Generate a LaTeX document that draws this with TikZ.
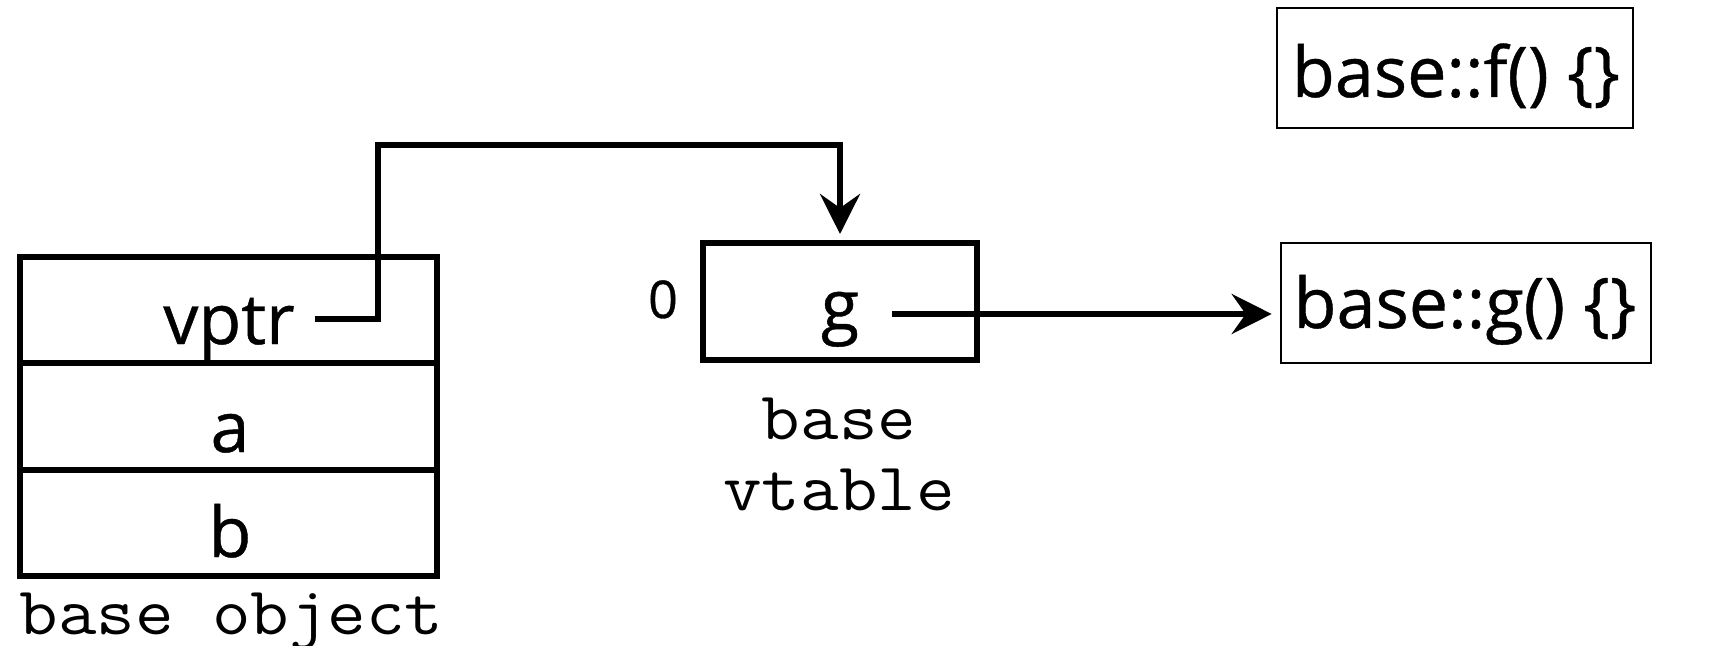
\documentclass[tikz,border=0pt]{standalone}
\usepackage{fontspec}
\newfontfamily\osans[FakeBold=0.6]{Open Sans}
\newfontfamily\cour[FakeStretch=1.1]{Latin Modern Mono}
\usetikzlibrary{arrows.meta}
\begin{document}
\begin{tikzpicture}[x=0.5pt,y=-0.5pt,
  cell/.style={draw, line width=3pt, minimum width=208.5pt, minimum height=53.2pt, inner sep=0pt},
  vtbox/.style={draw, line width=3pt, minimum width=137pt, minimum height=58.5pt, inner sep=0pt},
  fnbox/.style={draw, line width=1.3pt, minimum height=60pt, inner sep=0pt},
  txt/.style={anchor=base, inner sep=0pt, font=\osans\fontsize{35pt}{40pt}\selectfont},
  small/.style={anchor=base, inner sep=0pt, font=\osans\fontsize{26pt}{30pt}\selectfont},
  mono/.style={anchor=base, inner sep=0pt, font=\cour\fontsize{34pt}{38pt}\selectfont},
  ptr/.style={line width=3pt, -{Stealth[length=20pt, width=20pt, inset=7pt]}}
]
\useasboundingbox (0,0) rectangle (1711,646);

% base object
\node[cell] (r1) at (228.5,310.2) {};
\node[cell] (r2) at (228.5,416.5) {};
\node[cell] (r3) at (228.5,522.8) {};
\node[txt] (tvptr) at (229,344) {vptr};
\node[txt] (ta) at (230,452) {a};
\node[txt] (tb) at (230,557) {b};
\node[mono] (lobj) at (231.5,634) {base object};

% vtable
\node[vtbox] (vt) at (840,301.5) {};
\node[txt] (tg) at (840,330) {g};
\node[small] (t0) at (663,318) {0};
\node[mono] (lvt1) at (839,439) {base};
\node[mono] (lvt2) at (839,510) {vtable};

% functions
\node[fnbox, minimum width=178pt] (ff) at (1455,68) {};
\node[txt] (tff) at (1456,97) {base::f() \{\}};
\node[fnbox, minimum width=185pt] (fg) at (1466,303) {};
\node[txt] (tfg) at (1465,328) {base::g() \{\}};

% connectors
\coordinate (vp) at (315,319);
\coordinate (up) at (378,145);
\draw[ptr, shorten >=3pt] (vp) -| (up) -| (vt.north);
\coordinate (gp) at (892,314);
\draw[ptr, shorten >=4pt] (gp) -- (gp -| fg.west);
\end{tikzpicture}
\end{document}
